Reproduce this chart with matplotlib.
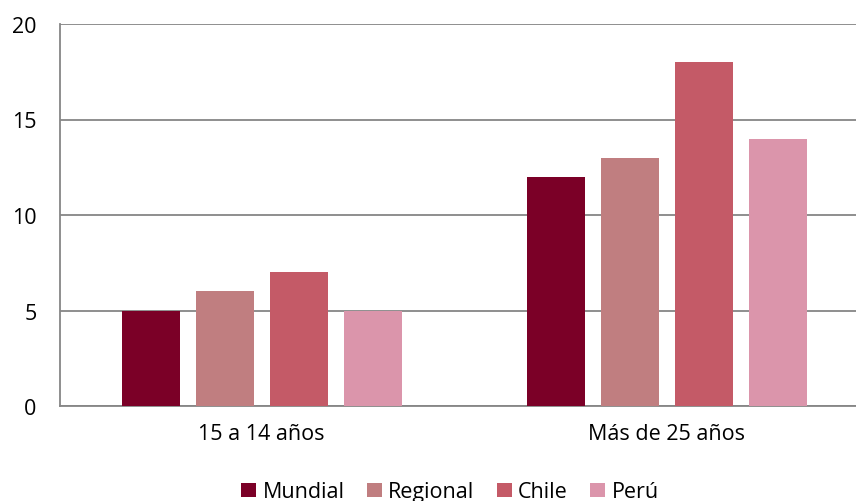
import matplotlib
matplotlib.use("Agg")
import matplotlib.pyplot as plt
import numpy as np

categories = ["15 a 14 años", "Más de 25 años"]
series_names = ["Mundial", "Regional", "Chile", "Perú"]
mundial = [5, 12]
regional = [6, 13]
chile = [7, 18]
peru = [5, 14]
yticks = [0, 5, 10, 15, 20]

colors = ["#7B0027", "#C07E80", "#C45A67", "#DB95AB"]

plt.rcParams['font.family'] = ['Open Sans', 'DejaVu Sans']
FS = 15.5

fig = plt.figure(figsize=(8.56, 5.02), dpi=100)
ax = fig.add_axes([60/856, 95/502, 1 - 60/856, (407-25)/502])

x = np.arange(len(categories))
width = 0.143
step = 0.183
all_series = [mundial, regional, chile, peru]
handles = []
for i, (name, vals) in enumerate(zip(series_names, all_series)):
    b = ax.bar(x + (i - 1.5) * step + 0.002, vals, width, color=colors[i], label=name, zorder=3)
    handles.append(b)

ax.set_ylim(0, 20)
ax.set_xlim(-0.496, 1.469)
ax.set_yticks(yticks)
ax.set_yticklabels([str(v) for v in yticks], fontsize=FS)
ax.set_xticks(x)
ax.set_xticklabels(categories, fontsize=FS)
ax.tick_params(axis='both', length=0, colors='#000000')
ax.tick_params(axis='y', pad=17)
ax.tick_params(axis='x', pad=12)
ax.yaxis.grid(True, color='#868686', linewidth=1.3, zorder=0)
for s in ['top', 'right']:
    ax.spines[s].set_visible(False)
ax.spines['left'].set_color('#868686')
ax.spines['left'].set_linewidth(1.3)
ax.spines['bottom'].set_color('#868686')
ax.spines['bottom'].set_linewidth(1.3)

fig.legend(handles=handles, labels=series_names, loc='center', bbox_to_anchor=(450/856, 1 - 493/502),
           ncol=4, frameon=False, fontsize=FS, handlelength=0.68, handleheight=0.68,
           handletextpad=0.3, columnspacing=1.05, borderpad=0)

fig.savefig("out.png", dpi=100)
